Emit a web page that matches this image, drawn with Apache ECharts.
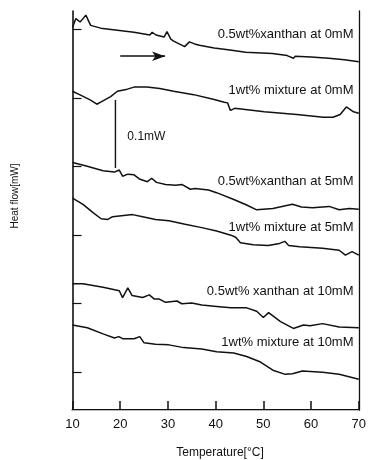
<!DOCTYPE html>
<html>
<head>
<meta charset="utf-8">
<script src="https://cdn.jsdelivr.net/npm/echarts@6.0.0/dist/echarts.min.js"></script>
<style>
html, body { margin: 0; padding: 0; background: #fff; }
#chart { width: 369px; height: 460px; }
</style>
</head>
<body>
<div id="chart"></div>
<script>
// DSC traces, [temperature °C, heat flow mW] (offset curves)
const xanthan0mM = [[10,0.558],[10.7,0.571],[11.6,0.566],[12.8,0.576],[13.8,0.561],[15.9,0.557],[19.4,0.554],[22.9,0.551],[26.2,0.547],[26.7,0.551],[27.5,0.547],[29.2,0.544],[29.8,0.552],[30.6,0.541],[31.2,0.538],[33.5,0.530],[34.5,0.537],[35.6,0.534],[36.6,0.532],[39.7,0.528],[43,0.525],[46.3,0.522],[51.9,0.520],[55,0.517],[56.3,0.513],[56.7,0.516],[60,0.515],[63.7,0.513],[67,0.511],[70,0.508]];
const mixture0mM = [[10,0.465],[11.8,0.459],[13.8,0.452],[15.1,0.446],[15.9,0.449],[18,0.457],[19.4,0.465],[21.5,0.468],[22.9,0.471],[25.6,0.471],[28.3,0.469],[31.2,0.465],[35.4,0.460],[39.7,0.453],[41.8,0.449],[42.5,0.448],[43.1,0.437],[44,0.440],[50.2,0.435],[57,0.431],[62.6,0.427],[64.6,0.427],[66.1,0.431],[67.4,0.442],[68.9,0.435],[70,0.433]];
const xanthan5mM = [[10,0.361],[12.9,0.356],[16.4,0.349],[18.8,0.347],[19.8,0.350],[20.5,0.341],[21.6,0.344],[22.9,0.343],[24.0,0.337],[25.7,0.333],[26.6,0.338],[27.6,0.332],[29.5,0.329],[31.6,0.328],[32.9,0.329],[34.7,0.322],[35.7,0.323],[38.5,0.321],[40.2,0.317],[43.8,0.307],[46.5,0.299],[48.6,0.292],[52,0.294],[56.1,0.300],[58,0.296],[60.3,0.295],[63.8,0.297],[65.9,0.292],[68,0.294],[70,0.293]];
const mixture5mM = [[10,0.309],[12.2,0.300],[14.3,0.288],[16.0,0.279],[17.4,0.278],[18.4,0.282],[19.8,0.283],[22.6,0.285],[24.7,0.282],[27.4,0.278],[30.2,0.276],[33.6,0.271],[37.1,0.266],[40.2,0.261],[43.2,0.255],[44.2,0.252],[45.2,0.244],[47.9,0.241],[51,0.240],[53.4,0.243],[54.5,0.246],[55.3,0.240],[57.6,0.238],[62.4,0.236],[65.9,0.233],[67.2,0.226],[68.6,0.231],[70,0.226]];
const xanthan10mM = [[10,0.184],[12.2,0.184],[16.4,0.179],[19.8,0.174],[20.5,0.164],[21.6,0.178],[22.5,0.167],[24.7,0.164],[26.1,0.168],[27.1,0.162],[28.1,0.162],[29.5,0.157],[31.9,0.159],[32.9,0.155],[35.0,0.156],[37.1,0.153],[40.2,0.151],[43.2,0.149],[46.5,0.149],[48.6,0.144],[50,0.135],[51.1,0.142],[53.6,0.129],[56.3,0.119],[58.4,0.124],[59.8,0.123],[62.4,0.126],[65.9,0.121],[70,0.120]];
const mixture10mM = [[10,0.124],[13.1,0.120],[16.4,0.111],[18.8,0.105],[19.7,0.107],[20.5,0.104],[22.9,0.104],[24.1,0.107],[25.0,0.098],[27.4,0.096],[30.2,0.095],[33.3,0.091],[37.1,0.089],[40.2,0.085],[43.8,0.083],[46.5,0.078],[49.4,0.070],[52,0.058],[54.6,0.052],[56.1,0.053],[58.2,0.057],[62.4,0.055],[65.9,0.052],[70,0.045]];

const curves = [xanthan0mM, mixture0mM, xanthan5mM, mixture5mM, xanthan10mM, mixture10mM];
const curveNames = ['0.5wt%xanthan at 0mM', '1wt% mixture at 0mM', '0.5wt%xanthan at 5mM',
                    '1wt% mixture at 5mM', '0.5wt% xanthan at 10mM', '1wt% mixture at 10mM'];
// where each curve's caption sits (right end, data coords)
const captionAt = [[68.9,0.548],[68.9,0.466],[68.9,0.334],[68.9,0.267],[68.9,0.173],[68.9,0.098]];

const xTicks = [10, 20, 30, 40, 50, 60, 70];
const yTicks = [0.055, 0.155, 0.255, 0.355, 0.455, 0.555];

// 0.1 mW scale bar and heating-direction arrow
const scaleBar = [[19, 0.452], [19, 0.353]];
const scaleText = { text: '0.1mW', at: [21.5, 0.398] };
const arrow = [[20, 0.516], [29.4, 0.516]];

const INK = '#111';
const FONT = '"Liberation Sans", Arial, sans-serif';

const chart = echarts.init(document.getElementById('chart'), null, { renderer: 'canvas' });

const series = curves.map((d, i) => ({
    name: curveNames[i],
    type: 'line',
    data: d,
    showSymbol: false,
    symbol: 'none',
    lineStyle: { color: INK, width: 1.5 },
    silent: true
}));

series.push({
    type: 'line',
    data: scaleBar,
    symbol: 'none',
    lineStyle: { color: INK, width: 1.4 },
    silent: true,
    markLine: {
        silent: true,
        symbol: ['none', 'arrow'],
        symbolSize: [7, 13],
        label: { show: false },
        lineStyle: { color: INK, width: 1.6, type: 'solid' },
        data: [[{ coord: arrow[0] }, { coord: arrow[1] }]]
    }
});

chart.setOption({
    animation: false,
    backgroundColor: '#fff',
    textStyle: { fontFamily: FONT },
    grid: { left: 72.5, right: 5.5, top: 11, bottom: 50, show: false },
    xAxis: [{
        type: 'value',
        min: 10, max: 70, interval: 10,
        axisLine: { show: true, lineStyle: { color: INK, width: 1.8 } },
        axisTick: { show: true, inside: true, length: 9, lineStyle: { color: INK, width: 1.5 } },
        axisLabel: { show: true, color: INK, fontSize: 13, margin: 8, fontFamily: FONT,
                     customValues: xTicks },
        splitLine: { show: false }
    }, {
        type: 'value', position: 'top', min: 10, max: 70,
        axisLine: { show: true, lineStyle: { color: '#bbb', width: 1 } },
        axisTick: { show: false }, axisLabel: { show: false }, splitLine: { show: false }
    }],
    yAxis: [{
        type: 'value',
        min: 0, max: 0.582,
        axisLine: { show: true, lineStyle: { color: INK, width: 1.6 } },
        axisTick: { show: true, inside: true, length: 9, lineStyle: { color: INK, width: 1.2 },
                    customValues: yTicks },
        axisLabel: { show: false },
        splitLine: { show: false }
    }, {
        type: 'value', position: 'right', min: 0, max: 1,
        axisLine: { show: true, lineStyle: { color: INK, width: 1.3 } },
        axisTick: { show: false }, axisLabel: { show: false }, splitLine: { show: false }
    }],
    series: series
});

// captions placed through the chart's own coordinate system
const toPx = p => chart.convertToPixel({ gridIndex: 0 }, p);
const graphics = curveNames.map((name, i) => {
    const p = toPx(captionAt[i]);
    return {
        type: 'text', x: p[0], y: p[1], silent: true,
        style: { text: name, fill: INK, font: '13px ' + FONT, align: 'right', verticalAlign: 'middle' }
    };
});
const sp = toPx(scaleText.at);
graphics.push({
    type: 'text', x: sp[0], y: sp[1], silent: true,
    style: { text: scaleText.text, fill: INK, font: '12px ' + FONT, align: 'left', verticalAlign: 'middle' }
});
graphics.push({
    type: 'text', x: 220, y: 453, silent: true,
    style: { text: 'Temperature[°C]', fill: INK, font: '12px ' + FONT, align: 'center', verticalAlign: 'middle' }
});
graphics.push({
    type: 'text', x: 15, y: 196, rotation: Math.PI / 2, silent: true,
    style: { text: 'Heat flow[mW]', fill: INK, font: '10px ' + FONT, align: 'center', verticalAlign: 'middle' }
});
chart.setOption({ graphic: graphics });
</script>
</body>
</html>
